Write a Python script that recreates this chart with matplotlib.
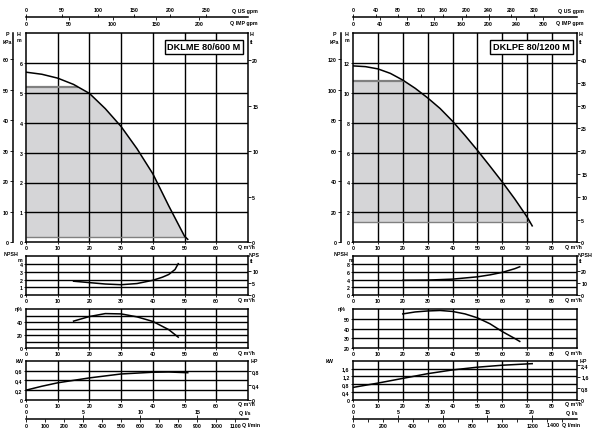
import numpy as np
import matplotlib
matplotlib.use("Agg")
import matplotlib.pyplot as plt
from matplotlib import font_manager

# ---- left chart: DKLME 80/600 M ----
title_a = "DKLME 80/600 M"
q_h_a = [0, 5, 10, 15, 20, 25, 30, 35, 40, 45, 50, 51]
h_a = [5.69, 5.62, 5.49, 5.28, 4.98, 4.47, 3.87, 3.13, 2.29, 1.22, 0.2, 0.1]
band_a = [0.17, 5.19]          # shaded working range, H bottom / top (m)
q_npsh_a = [15, 20, 25, 30, 35, 40, 43, 45, 47, 48]
npsh_a = [1.78, 1.6, 1.42, 1.33, 1.48, 1.9, 2.3, 2.65, 3.3, 4.05]
q_eff_a = [15, 20, 25, 30, 35, 40, 45, 48]
eff_a = [41.5, 48.5, 53, 52.5, 48, 41, 28.5, 17]
q_pow_a = [0, 5, 10, 20, 30, 40, 45, 51]
pow_a = [0.2, 0.28, 0.35, 0.45, 0.53, 0.565, 0.57, 0.555]

# ---- right chart: DKLPE 80/1200 M ----
title_b = "DKLPE 80/1200 M"
q_h_b = [0, 5, 10, 15, 20, 25, 30, 35, 40, 45, 50, 55, 60, 65, 70, 72]
h_b = [11.8, 11.75, 11.6, 11.3, 10.85, 10.3, 9.66, 8.95, 8.1, 7.15, 6.15, 5.1, 4.03, 2.9, 1.68, 1.1]
band_b = [1.34, 10.8]
q_npsh_b = [20, 30, 40, 50, 55, 60, 65, 67]
npsh_b = [3.8, 3.85, 4.1, 4.7, 5.2, 5.85, 6.8, 7.3]
q_eff_b = [20, 25, 30, 35, 40, 45, 50, 55, 60, 65, 67]
eff_b = [55, 57, 58, 58.5, 57.5, 55, 51, 45, 37, 30, 27]
q_pow_b = [0, 10, 20, 30, 40, 50, 60, 72]
pow_b = [0.64, 0.86, 1.1, 1.34, 1.53, 1.67, 1.77, 1.85]

# unit conversions from m3/h
US_GPM = 4.40287
IMP_GPM = 3.66615
LPS = 1 / 3.6
LPM = 1000 / 60
KPA = 9.81
FT = 1 / 0.3048
HP = 1 / 0.7457

names = {f.name for f in font_manager.fontManager.ttflist}
if "Liberation Sans Narrow" in names:
    FAM, FS, TFS = "Liberation Sans Narrow", 4.3, 8.3
else:
    FAM, FS, TFS = "Liberation Sans", 3.8, 6.6
plt.rcParams["font.family"] = [FAM, "DejaVu Sans"]
plt.rcParams["font.weight"] = "bold"
plt.rcParams["font.size"] = FS

W, H = 592, 439
fig = plt.figure(figsize=(W / 100, H / 100), dpi=100)

GRID = dict(color="black", lw=1.0, zorder=1)


def box(x0, y0, x1, y1):
    return fig.add_axes([x0 / W, 1 - y1 / H, (x1 - x0) / W, (y1 - y0) / H])


def txt(x, y, s, **kw):
    kw.setdefault("va", "center")
    kw.setdefault("ha", "center")
    fig.text(x / W, 1 - y / H, s, fontsize=kw.pop("fs", FS), **kw)


def comma(v):
    return ("%g" % v).replace(".", ",")


def sub(x0, x1, y0, y1, qmax, ylim, yticks, grid_y, fmt=str):
    ax = box(x0, y0, x1, y1)
    ax.set_xlim(0, qmax)
    ax.set_ylim(*ylim)
    for g in range(10, qmax, 10):
        ax.axvline(g, **GRID)
    for g in grid_y:
        ax.axhline(g, **GRID)
    ax.set_xticks(range(0, qmax, 10))
    ax.set_yticks(yticks)
    ax.set_yticklabels([fmt(v) for v in yticks])
    ax.tick_params(length=1.5, width=0.6, pad=1, labelsize=FS)
    ax.tick_params(axis="x", pad=0.6)
    for s in ax.spines.values():
        s.set_linewidth(1.1)
    return ax


def right_axis(ax, lim, ticks, fmt=str):
    r = ax.twinx()
    r.set_ylim(*lim)
    r.set_yticks(ticks)
    r.set_yticklabels([fmt(v) for v in ticks])
    r.tick_params(length=2, width=0.6, pad=1, labelsize=FS)
    for s in r.spines.values():
        s.set_visible(False)
    return r


def scale_axis(x0, x1, y, qmax, f_top, top_ticks, top_labels, f_bot, bot_ticks, bot_labels):
    a = box(x0, y - 0.5, x1, y)
    a.set_xlim(0, qmax * f_top)
    a.set_yticks([])
    for s in a.spines.values():
        s.set_visible(False)
    a.patch.set_visible(False)
    a.xaxis.set_ticks_position("top")
    a.set_xticks(top_ticks)
    a.set_xticklabels(top_labels)
    a.tick_params(length=2, width=0.6, pad=1, labelsize=FS)
    b = box(x0, y - 0.5, x1, y)
    b.set_xlim(0, qmax * f_bot)
    b.set_yticks([])
    for k, s in b.spines.items():
        s.set_visible(k == "bottom")
    b.spines["bottom"].set_linewidth(1.1)
    b.patch.set_visible(False)
    b.set_xticks(bot_ticks)
    b.set_xticklabels(bot_labels)
    b.tick_params(length=2, width=0.6, pad=1, labelsize=FS)


def panel(x0, x1, qmax, hmax, title, title_xy, kpa_x, lab, cfg):
    # main H-Q chart
    ax = sub(x0, x1, 34, 243.3, qmax, (0, hmax), cfg["h_ticks"], cfg["h_ticks"][1:])
    q_h, h, band = cfg["q_h"], cfg["h"], cfg["band"]
    qg = np.linspace(0, q_h[-1], 400)
    hg = np.interp(qg, q_h, h)
    q_end = np.interp(band[0], h[::-1], q_h[::-1])
    q_top = np.interp(band[1], h[::-1], q_h[::-1])
    m = qg <= q_end
    ax.fill_between(qg[m], band[0], np.minimum(hg[m], band[1]), color="#d5d5d7", lw=0, zorder=0.5)
    ax.plot([0, q_top], [band[1], band[1]], color="#808080", lw=1.6, zorder=1.5, solid_capstyle="butt")
    ax.plot([0, q_end], [band[0], band[0]], color="#808080", lw=1.0, zorder=1.5, solid_capstyle="butt")
    ax.plot(q_h, h, color="black", lw=1.1, zorder=3)
    right_axis(ax, (0, hmax * FT), cfg["ft_ticks"])
    txt(title_xy[0], title_xy[1], title, fs=TFS,
        bbox=dict(boxstyle="square,pad=0.3", fc="white", ec="black", lw=1.0))
    # pressure scale on the far left
    k = box(kpa_x, 34, kpa_x + 0.5, 243.3)
    k.set_ylim(0, hmax * KPA)
    k.set_xticks([])
    k.set_yticks(cfg["kpa_ticks"])
    for n, s in k.spines.items():
        s.set_visible(n == "left")
    k.spines["left"].set_linewidth(1.1)
    k.patch.set_visible(False)
    k.tick_params(length=2, width=0.6, pad=1, labelsize=FS)
    txt(lab["P"], 35, "P")
    txt(lab["P"], 42, "kPa")
    txt(lab["H"], 34.5, "H")
    txt(lab["H"], 40.5, "m")
    txt(x1 + 4, 35, "H")
    txt(x1 + 4, 42, "ft")
    txt(lab["Q"], 247.5, "Q m³/h", ha="left")

    # NPSH
    ax = sub(x0, x1, 257.3, 296, qmax, (0, cfg["npsh_max"]), cfg["npsh_ticks"], cfg["npsh_grid"])
    ax.plot(cfg["q_npsh"], cfg["npsh"], color="black", lw=1.1, zorder=3)
    right_axis(ax, (0, cfg["npsh_max"] * FT), cfg["npsh_ft"])
    txt(lab["npsh"], 255, "NPSH")
    txt(lab["m"], 261, "m")
    txt(x1 + 1, 255.5, cfg["npsh_r"], ha="left")
    txt(x1 + 4, 262, "ft")
    txt(lab["Q"], 300.5, "Q m³/h", ha="left")

    # efficiency
    ax = sub(x0, x1, 310, 349.3, qmax, cfg["eff_lim"], cfg["eff_ticks"], cfg["eff_grid"])
    ax.plot(cfg["q_eff"], cfg["eff"], color="black", lw=1.1, zorder=3)
    txt(lab["eta"], 309.5, "η%")
    txt(lab["Q"], 353.5, "Q m³/h", ha="left")

    # power
    ax = sub(x0, x1, 361.7, 401, qmax, (0, cfg["pow_max"]), cfg["pow_ticks"], cfg["pow_ticks"][1:], comma)
    ax.plot(cfg["q_pow"], cfg["pow"], color="black", lw=1.1, zorder=3)
    right_axis(ax, (0, cfg["pow_max"] * HP), cfg["hp_ticks"], comma)
    txt(lab["kw"], 362, "kW")
    txt(x1 + 6, 362, "HP")
    txt(lab["Q"], 405, "Q m³/h", ha="left")

    # flow scales, top and bottom
    scale_axis(x0, x1, 18, qmax, US_GPM, cfg["us"], [str(v) for v in cfg["us"]],
               IMP_GPM, cfg["imp"], cfg["imp_labels"])
    scale_axis(x0, x1, 419.5, qmax, LPS, cfg["lps"], [str(v) for v in cfg["lps"]],
               LPM, cfg["lpm"], cfg["lpm_labels"])
    txt(lab["gpm"], 12, "Q US gpm", ha="left")
    txt(lab["gpm"] - 2, 23.5, "Q IMP gpm", ha="left")
    txt(lab["Q"] + 1, 413.5, "Q l/s", ha="left")
    txt(lab["lpm"], 425.5, lab["lpm_text"], ha="left")


lpm_a = list(range(0, 1200, 100))
panel(26, 248, 70, 7, title_a, (204, 48), 13,
      dict(P=7, H=19, npsh=11, m=20, eta=19, kw=20, Q=238, gpm=232, lpm=242, lpm_text="Q l/min"),
      dict(q_h=q_h_a, h=h_a, band=band_a, h_ticks=list(range(0, 7)),
           ft_ticks=[0, 5, 10, 15, 20], kpa_ticks=[0, 10, 20, 30, 40, 50, 60],
           q_npsh=q_npsh_a, npsh=npsh_a, npsh_max=5, npsh_ticks=[0, 1, 2, 3, 4],
           npsh_grid=[1, 2, 3, 4], npsh_ft=[0, 5, 10], npsh_r="NPS",
           q_eff=q_eff_a, eff=eff_a, eff_lim=(0, 60), eff_ticks=[0, 20, 40],
           eff_grid=[10, 20, 30, 40, 50],
           q_pow=q_pow_a, pow=pow_a, pow_max=0.8, pow_ticks=[0, 0.2, 0.4, 0.6],
           hp_ticks=[0, 0.4, 0.8],
           us=[0, 50, 100, 150, 200, 250], imp=[0, 50, 100, 150, 200],
           imp_labels=["0", "50", "100", "150", "200"],
           lps=[0, 5, 10, 15], lpm=lpm_a, lpm_labels=[str(v) for v in lpm_a]))

lpm_b = list(range(0, 1500, 100))
panel(353, 577, 90, 14, title_b, (531.5, 48), 341,
      dict(P=334, H=347, npsh=341, m=351, eta=342, kw=330, Q=565, gpm=558, lpm=547,
           lpm_text="1400  Q l/min"),
      dict(q_h=q_h_b, h=h_b, band=band_b, h_ticks=list(range(0, 13, 2)),
           ft_ticks=list(range(0, 41, 5)), kpa_ticks=list(range(0, 121, 20)),
           q_npsh=q_npsh_b, npsh=npsh_b, npsh_max=10, npsh_ticks=[0, 2, 4, 6, 8],
           npsh_grid=[2, 4, 6, 8], npsh_ft=[0, 10, 20], npsh_r="NPSH",
           q_eff=q_eff_b, eff=eff_b, eff_lim=(20, 60), eff_ticks=[20, 30, 40, 50],
           eff_grid=[30, 40, 50],
           q_pow=q_pow_b, pow=pow_b, pow_max=2.0, pow_ticks=[0, 0.4, 0.8, 1.2, 1.6],
           hp_ticks=[0, 0.8, 1.6, 2.4],
           us=list(range(0, 321, 40)), imp=list(range(0, 281, 40)),
           imp_labels=["0", "40", "80", "120", "160", "200", "240", "300"],
           lps=[0, 5, 10, 15, 20], lpm=lpm_b,
           lpm_labels=[str(v) if v % 200 == 0 and v < 1400 else "" for v in lpm_b]))

fig.savefig("out.png", dpi=100)
